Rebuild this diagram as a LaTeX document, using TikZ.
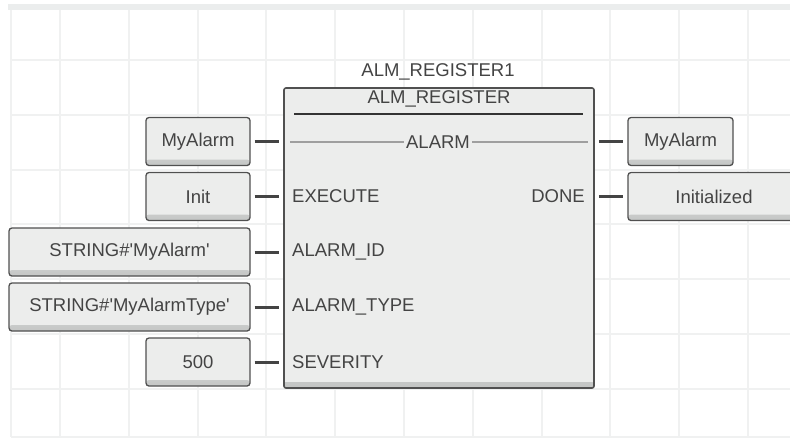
\documentclass[tikz,border=0pt]{standalone}
\usepackage{fontspec}
\newfontfamily\lsans{Liberation Sans}
\usetikzlibrary{calc}
\definecolor{gridc}{HTML}{F0F1F1}
\definecolor{bandc}{HTML}{EBEDED}
\definecolor{boxfill}{HTML}{ECEDEC}
\definecolor{boxdraw}{HTML}{505050}
\definecolor{txt}{HTML}{444444}
\definecolor{shade}{HTML}{C4C6C5}
\tikzset{
  every node/.style={font=\lsans\fontsize{18.5}{20}\selectfont, text=txt},
  bshade/.style={path picture={\shade[top color=boxfill, bottom color=shade]
    ($(path picture bounding box.south west)+(0,6pt)$) rectangle (path picture bounding box.south east);}},
  valbox/.style={draw=boxdraw, fill=boxfill, line width=1.3pt, rounded corners=3pt,
    minimum height=48pt, inner sep=0pt, bshade},
  block/.style={draw=boxdraw, fill=boxfill, line width=1.6pt, rounded corners=2pt,
    minimum width=310pt, minimum height=300pt, inner sep=0pt, bshade},
  pin/.style={inner sep=0pt},
  stub/.style={draw=boxdraw!85!black, line width=3pt, shorten <=4pt, shorten >=4pt},
  alarmline/.style={draw=gray!75, line width=1.5pt},
  gridline/.style={draw=gridc, line width=2pt}
}
\begin{document}
\begin{tikzpicture}[x=1pt,y=-1pt]
\useasboundingbox (0,0) rectangle (790,440);
\fill[white] (0,0) rectangle (790,440);
% grid
\foreach \gx in {0,...,10} \draw[gridline] ({60+68.8*\gx},10) -- ({60+68.8*\gx},437);
\foreach \gy in {0,...,6} \draw[gridline] (10,{60+54.8*\gy}) -- (790,{60+54.8*\gy});
\fill[bandc] (8,4) rectangle (790,10);
\draw[gridline] (11,10) -- (11,437);
\draw[gridline] (11,437) -- (790,437);

% block
\node[block] (blk) at (439,238) {};
\node[pin] (inst) at (438,72) {ALM\_REGISTER1};
\node[pin] (type) at (439,99) {ALM\_REGISTER};
\coordinate (tl) at (294,114);
\coordinate (tr) at (583,114);
\draw[black!80, line width=1.5pt] (tl) -- (tr);

% pins
\node[pin, inner xsep=2pt] (palarm) at (438,142) {ALARM};
\coordinate (al) at (290,142);
\coordinate (ar) at (588,142);
\draw[alarmline] (al) -- (palarm.west);
\draw[alarmline] (palarm.east) -- (ar);
\node[pin, anchor=west] (pexec) at (292,196) {EXECUTE};
\node[pin, anchor=east] (pdone) at (585,196) {DONE};
\node[pin, anchor=west] (pid) at (292,252) {ALARM\_ID};
\node[pin, anchor=west] (ptype) at (292,307) {ALARM\_TYPE};
\node[pin, anchor=west] (psev) at (292,362) {SEVERITY};

% input boxes
\node[valbox, minimum width=104pt] (inA) at (198,141.5) {MyAlarm};
\node[valbox, minimum width=104pt] (inB) at (198,196.5) {Init};
\node[valbox, minimum width=241pt] (inC) at (129.5,252) {STRING\#\textquotesingle MyAlarm\textquotesingle};
\node[valbox, minimum width=241pt] (inD) at (129.5,307) {STRING\#\textquotesingle MyAlarmType\textquotesingle};
\node[valbox, minimum width=104pt] (inE) at (198,362) {500};

% output boxes
\node[valbox, minimum width=105pt] (outA) at (680.5,141.5) {MyAlarm};
\node[valbox, minimum width=172pt] (outB) at (714,196.5) {Initialized};

% connectors
\draw[stub] (inA.east) -- (inA.east -| blk.west);
\draw[stub] (inB.east) -- (inB.east -| blk.west);
\draw[stub] (inC.east) -- (inC.east -| blk.west);
\draw[stub] (inD.east) -- (inD.east -| blk.west);
\draw[stub] (inE.east) -- (inE.east -| blk.west);
\draw[stub] (outA.west -| blk.east) -- (outA.west);
\draw[stub] (outB.west -| blk.east) -- (outB.west);
\end{tikzpicture}
\end{document}
